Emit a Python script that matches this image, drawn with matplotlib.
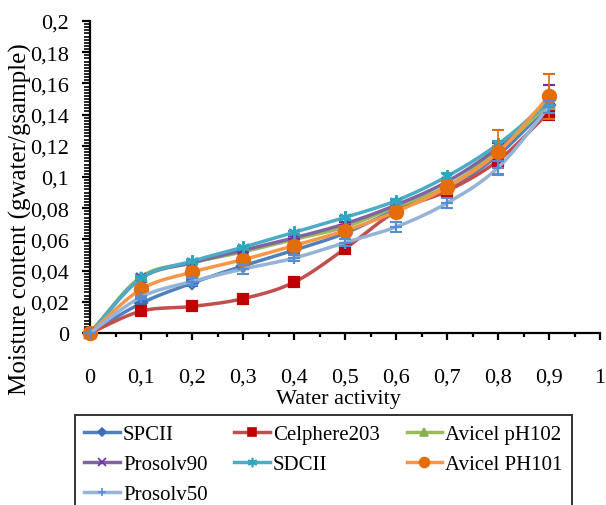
import numpy as np
import matplotlib.pyplot as plt
from matplotlib.lines import Line2D
from matplotlib.ticker import MultipleLocator, FuncFormatter

plt.rcParams['font.family'] = ['Liberation Serif', 'DejaVu Serif']

aw = [0, 0.1, 0.2, 0.3, 0.4, 0.5, 0.6, 0.7, 0.8, 0.9]

names = ['SPCII', 'Celphere203', 'Avicel pH102', 'Prosolv90', 'SDCII',
         'Avicel PH101', 'Prosolv50']

spcii = [0, 0.019, 0.032, 0.043, 0.053, 0.064, 0.079, 0.092, 0.114, 0.146]
celphere = [0, 0.014, 0.017, 0.022, 0.0325, 0.054, 0.078, 0.091, 0.1105, 0.1415]
avicel102 = [0, 0.036, 0.045, 0.052, 0.060, 0.068, 0.081, 0.094, 0.117, 0.147]
prosolv90 = [0, 0.035, 0.045, 0.053, 0.061, 0.070, 0.082, 0.097, 0.119, 0.150]
sdcii = [0, 0.035, 0.046, 0.055, 0.0645, 0.0741, 0.0848, 0.1004, 0.121, 0.148]
avicel101 = [0, 0.028, 0.039, 0.047, 0.056, 0.0656, 0.0778, 0.0934, 0.1158, 0.1517]
prosolv50 = [0, 0.023, 0.033, 0.041, 0.048, 0.058, 0.068, 0.0833, 0.106, 0.145]

# standard deviations
spcii_sd = [0, 0.002, 0.002, 0.002, 0.002, 0.002, 0.003, 0.003, 0.004, 0.004]
celphere_sd = [0, 0.001, 0.001, 0.001, 0.001, 0.002, 0.003, 0.003, 0.004, 0.005]
avicel102_sd = [0, 0.001, 0.001, 0.001, 0.001, 0.001, 0.002, 0.002, 0.003, 0.003]
prosolv90_sd = [0, 0.001, 0.001, 0.001, 0.001, 0.001, 0.002, 0.002, 0.003, 0.009]
sdcii_sd = [0, 0.001, 0.001, 0.001, 0.001, 0.001, 0.001, 0.002, 0.002, 0.003]
avicel101_sd = [0, 0.001, 0.002, 0.002, 0.002, 0.003, 0.003, 0.004, 0.0145, 0.0145]
prosolv50_sd = [0, 0.001, 0.002, 0.003, 0.002, 0.002, 0.003, 0.003, 0.004, 0.004]

series = [spcii, celphere, avicel102, prosolv90, sdcii, avicel101, prosolv50]
errors = [spcii_sd, celphere_sd, avicel102_sd, prosolv90_sd, sdcii_sd,
          avicel101_sd, prosolv50_sd]

line_colors = ['#4F81BD', '#C0504D', '#9BBB59', '#8064A2', '#4BACC6',
               '#F79646', '#95B3D7']
marker_colors = ['#3C6EB4', '#C00000', '#8AB04A', '#7030A0', '#31A5C0',
                 '#E46C0A', '#558ED5']
markers = ['D', 's', '^', 'x', (6, 2, 0), 'o', '+']
msizes = [6, 7, 7, 7, 9, 9.5, 8]


def smooth(x, y, n=30):
    # Catmull-Rom curve through the points, like a spreadsheet "smoothed line"
    x = np.asarray(x, float)
    y = np.asarray(y, float)
    px = np.concatenate([[2 * x[0] - x[1]], x, [2 * x[-1] - x[-2]]])
    py = np.concatenate([[2 * y[0] - y[1]], y, [2 * y[-1] - y[-2]]])
    t = np.linspace(0, 1, n)
    xs, ys = [], []
    for i in range(1, len(px) - 2):
        for p, out in ((px, xs), (py, ys)):
            p0, p1, p2, p3 = p[i - 1], p[i], p[i + 1], p[i + 2]
            out.append(0.5 * ((2 * p1) + (-p0 + p2) * t
                              + (2 * p0 - 5 * p1 + 4 * p2 - p3) * t ** 2
                              + (-p0 + 3 * p1 - 3 * p2 + p3) * t ** 3))
    return np.concatenate(xs), np.concatenate(ys)


fig = plt.figure(figsize=(6.06, 5.06), dpi=100)
ax = fig.add_axes([90 / 606, 1 - 334 / 506, 510 / 606, 312 / 506])

handles = []
for i, (vals, sd) in enumerate(zip(series, errors)):
    sx, sy = smooth(aw, vals)
    ax.plot(sx, sy, color=line_colors[i], lw=2.5, zorder=2 + i * 0.1,
            solid_capstyle='round')
    ax.errorbar(aw, vals, yerr=sd, fmt='none', ecolor=marker_colors[i],
                elinewidth=1.2, capsize=4, capthick=1.5, zorder=2.05 + i * 0.1)
    ax.plot(aw, vals, ls='none', marker=markers[i], ms=msizes[i],
            color=marker_colors[i], mec=marker_colors[i], mew=1.6,
            zorder=2.06 + i * 0.1, clip_on=False)
    handles.append(Line2D([], [], color=line_colors[i], lw=2.5,
                          marker=markers[i], ms=msizes[i] * 0.75,
                          mfc=marker_colors[i], mec=marker_colors[i], mew=1.2))

ax.set_xlim(0, 1)
ax.set_ylim(0, 0.2)
ax.spines['top'].set_visible(False)
ax.spines['right'].set_visible(False)
for s in ('left', 'bottom'):
    ax.spines[s].set_linewidth(1.6)
    ax.spines[s].set_color('black')

fmt = FuncFormatter(lambda v, pos: f"{round(v, 3):g}".replace('.', ','))
ax.xaxis.set_major_locator(MultipleLocator(0.1))
ax.xaxis.set_minor_locator(MultipleLocator(0.05))
ax.yaxis.set_major_locator(MultipleLocator(0.02))
ax.yaxis.set_minor_locator(MultipleLocator(0.002))
ax.xaxis.set_major_formatter(fmt)
ax.yaxis.set_major_formatter(fmt)
ax.tick_params(axis='x', which='major', direction='out', length=5, width=1.6,
               pad=20, labelsize=16)
ax.tick_params(axis='x', which='minor', direction='out', length=3, width=1.6)
ax.tick_params(axis='y', which='major', direction='out', length=6, width=1.6,
               pad=9, labelsize=16)
ax.tick_params(axis='y', which='minor', direction='out', length=4, width=1.2)

fig.text(338 / 606, 1 - 400 / 506, 'Water activity', ha='center', va='center',
         fontsize=16)
fig.text(20 / 606, 1 - 219 / 506, 'Moisture content (gwater/gsample)',
         rotation=90, ha='center', va='center', fontsize=18)

# legend filled row by row: reorder for matplotlib's column-first layout
order = [0, 3, 6, 1, 4, 2, 5]
leg = fig.legend([handles[k] for k in order], [names[k] for k in order],
                 ncol=3, loc='upper left',
                 bbox_to_anchor=(75 / 606, 1 - 416 / 506, 497 / 606, 0),
                 mode='expand', fontsize=15, frameon=True, fancybox=False,
                 handlelength=1.7, handletextpad=0.15, borderpad=0.45,
                 labelspacing=0.5, borderaxespad=0, columnspacing=1.0)
leg.get_frame().set_edgecolor('black')
leg.get_frame().set_linewidth(1.4)

fig.savefig('out.png', dpi=100)
